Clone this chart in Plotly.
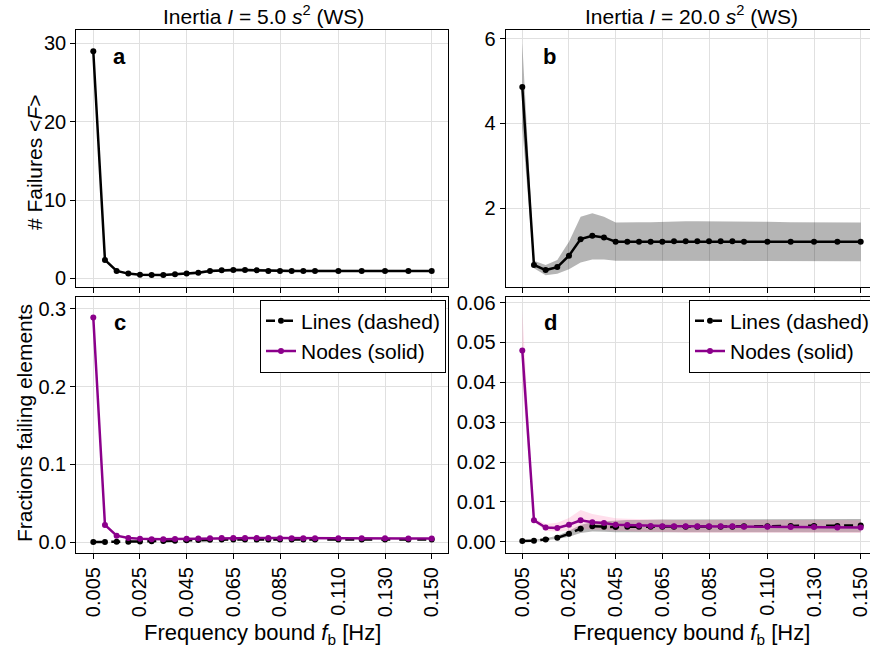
import plotly.graph_objects as go

W, H = 870, 651

freq = [0.005, 0.010, 0.015, 0.020, 0.025, 0.030, 0.035, 0.040, 0.045, 0.050,
        0.055, 0.060, 0.065, 0.070, 0.075, 0.080, 0.085, 0.090, 0.095, 0.100,
        0.110, 0.120, 0.130, 0.140, 0.150]
xtick_vals = [0.005, 0.025, 0.045, 0.065, 0.085, 0.110, 0.130, 0.150]
xtick_text = ["0.005", "0.025", "0.045", "0.065", "0.085", "0.110", "0.130", "0.150"]

# panel a: mean number of failures, I = 5.0
a_mean = [29.0, 2.34, 0.94, 0.60, 0.47, 0.43, 0.43, 0.51, 0.60, 0.72,
          0.94, 1.02, 1.06, 1.06, 1.02, 0.94, 0.94, 0.94, 0.94, 0.94,
          0.94, 0.93, 0.93, 0.93, 0.93]
a_high = [29.3, 2.5, 1.05, 0.72, 0.58, 0.55, 0.56, 0.65, 0.76, 0.9,
          1.12, 1.2, 1.24, 1.24, 1.2, 1.1, 1.08, 1.08, 1.08, 1.07,
          1.07, 1.06, 1.06, 1.06, 1.06]
a_low = [28.7, 2.2, 0.84, 0.5, 0.38, 0.33, 0.32, 0.38, 0.46, 0.56,
         0.78, 0.85, 0.88, 0.88, 0.85, 0.8, 0.8, 0.8, 0.8, 0.8,
         0.8, 0.8, 0.8, 0.8, 0.8]

# panel b: mean number of failures, I = 20.0
b_mean = [4.86, 0.66, 0.54, 0.61, 0.88, 1.27, 1.35, 1.31, 1.21, 1.21,
          1.21, 1.21, 1.21, 1.22, 1.22, 1.22, 1.22, 1.22, 1.22, 1.21,
          1.21, 1.21, 1.21, 1.21, 1.21]
b_high = [5.9, 0.76, 0.66, 0.78, 1.21, 1.80, 1.88, 1.80, 1.66, 1.67,
          1.67, 1.67, 1.68, 1.68, 1.69, 1.69, 1.69, 1.69, 1.69, 1.68,
          1.68, 1.67, 1.67, 1.66, 1.66]
b_low = [3.9, 0.58, 0.42, 0.45, 0.56, 0.72, 0.79, 0.79, 0.76, 0.75,
         0.75, 0.75, 0.75, 0.75, 0.75, 0.75, 0.75, 0.75, 0.75, 0.75,
         0.75, 0.75, 0.75, 0.75, 0.75]

# panel c: fractions failing, I = 5.0
c_lines = [0.0003, 0.0004, 0.0006, 0.0008, 0.0010, 0.0013, 0.0016, 0.0020, 0.0025, 0.0030,
           0.0033, 0.0035, 0.0036, 0.0036, 0.0035, 0.0034, 0.0034, 0.0034, 0.0034, 0.0034,
           0.0034, 0.0034, 0.0034, 0.0034, 0.0034]
c_nodes = [0.289, 0.0223, 0.0085, 0.0055, 0.0045, 0.0040, 0.0040, 0.0042, 0.0045, 0.0048,
           0.0052, 0.0055, 0.0056, 0.0056, 0.0055, 0.0054, 0.0053, 0.0052, 0.0052, 0.0052,
           0.0051, 0.0051, 0.0051, 0.0050, 0.0050]

# panel d: fractions failing, I = 20.0
d_lines = [0.0002, 0.0003, 0.0006, 0.0010, 0.0020, 0.0033, 0.0039, 0.0038, 0.0037, 0.0038,
           0.0038, 0.0038, 0.0038, 0.0038, 0.0038, 0.0038, 0.0038, 0.0038, 0.0038, 0.0039,
           0.0039, 0.0040, 0.0040, 0.0040, 0.0041]
d_lines_high = [0.0003, 0.0005, 0.0009, 0.0015, 0.0028, 0.0042, 0.0050, 0.0052, 0.0054, 0.0055,
                0.0055, 0.0056, 0.0056, 0.0056, 0.0056, 0.0056, 0.0056, 0.0056, 0.0056, 0.0056,
                0.0057, 0.0057, 0.0057, 0.0057, 0.0057]
d_lines_low = [0.0001, 0.0002, 0.0004, 0.0007, 0.0013, 0.0022, 0.0026, 0.0025, 0.0024, 0.0023,
               0.0023, 0.0023, 0.0023, 0.0023, 0.0023, 0.0023, 0.0023, 0.0023, 0.0023, 0.0024,
               0.0024, 0.0024, 0.0024, 0.0024, 0.0024]
d_nodes = [0.048, 0.0054, 0.0036, 0.0035, 0.0043, 0.0054, 0.0049, 0.0047, 0.0043, 0.0042,
           0.0041, 0.0040, 0.0039, 0.0039, 0.0039, 0.0039, 0.0039, 0.0039, 0.0039, 0.0038,
           0.0038, 0.0037, 0.0037, 0.0036, 0.0036]
d_nodes_high = [0.058, 0.0060, 0.0045, 0.0048, 0.0060, 0.0080, 0.0070, 0.0064, 0.0059, 0.0058,
                0.0057, 0.0056, 0.0055, 0.0055, 0.0055, 0.0055, 0.0055, 0.0055, 0.0055, 0.0054,
                0.0054, 0.0054, 0.0054, 0.0054, 0.0054]
d_nodes_low = [0.040, 0.0050, 0.0028, 0.0025, 0.0028, 0.0032, 0.0030, 0.0029, 0.0028, 0.0027,
               0.0026, 0.0025, 0.0024, 0.0024, 0.0023, 0.0023, 0.0023, 0.0023, 0.0023, 0.0022,
               0.0022, 0.0022, 0.0022, 0.0022, 0.0022]

FONT = "Liberation Sans, Arial, Helvetica, sans-serif"
PURPLE = "#8b008b"
GREY_BAND = "rgba(0,0,0,0.29)"
PINK_BAND = "rgba(255,110,170,0.22)"

fig = go.Figure()


def band(xa, ya, hi, lo, color):
    fig.add_trace(go.Scatter(
        x=freq + freq[::-1], y=hi + lo[::-1], fill="toself", fillcolor=color,
        line=dict(width=0), mode="lines", hoverinfo="skip", showlegend=False,
        xaxis=xa, yaxis=ya))


def line(xa, ya, y, color, dash="solid", name=None, legend=None, show=False):
    fig.add_trace(go.Scatter(
        x=freq, y=y, mode="lines+markers", name=name,
        line=dict(color=color, width=2.5, dash=dash),
        marker=dict(color=color, size=6),
        showlegend=show, legend=legend, xaxis=xa, yaxis=ya))


# a
band("x", "y", a_high, a_low, GREY_BAND)
line("x", "y", a_mean, "black")
# b
band("x2", "y2", b_high, b_low, GREY_BAND)
line("x2", "y2", b_mean, "black")
# c
line("x3", "y3", c_lines, "black", "dash", "Lines (dashed)", "legend", True)
line("x3", "y3", c_nodes, PURPLE, "solid", "Nodes (solid)", "legend", True)
# d
band("x4", "y4", d_lines_high, d_lines_low, GREY_BAND)
band("x4", "y4", d_nodes_high, d_nodes_low, PINK_BAND)
line("x4", "y4", d_lines, "black", "dash", "Lines (dashed)", "legend2", True)
line("x4", "y4", d_nodes, PURPLE, "solid", "Nodes (solid)", "legend2", True)

# layout geometry (pixels)
xl_left = [76.3 / W, 448.0 / W]
xl_right = [505.7 / W, 1.0]
y_top = [1 - 287.0 / H, 1 - 30.3 / H]
y_bot = [1 - 553.0 / H, 1 - 297.0 / H]

xr_left = [-0.00228, 0.15698]
xr_right = [-0.00211, 0.15398]

common_ax = dict(showgrid=True, gridcolor="#e0e0e0", gridwidth=1, zeroline=False,
                 showline=True, linecolor="black", linewidth=1.2,
                 ticks="outside", ticklen=5, tickcolor="black", tickwidth=1,
                 automargin=False, ticklabeloverflow="allow",
                 tickfont=dict(family=FONT, size=20, color="black"))


def xax(domain, rng, anchor, labels):
    d = dict(common_ax)
    d.update(domain=domain, range=rng, anchor=anchor, tickvals=xtick_vals,
             ticktext=xtick_text, showticklabels=labels, tickangle=-90,
             mirror=True)
    return d


def yax(domain, rng, anchor, tickvals, fmt, right=False):
    d = dict(common_ax)
    d.update(domain=domain, range=rng, anchor=anchor, tickvals=tickvals,
             tickformat=fmt, mirror=(not right))
    return d


leg_common = dict(bgcolor="white", bordercolor="black", borderwidth=1,
                  font=dict(family=FONT, size=21), itemwidth=30,
                  tracegroupgap=0, xref="container", yref="container",
                  yanchor="top")

fig.update_layout(
    width=W, height=H, margin=dict(l=0, r=0, t=0, b=0, autoexpand=False),
    paper_bgcolor="white", plot_bgcolor="white",
    font=dict(family=FONT, size=20, color="black"),
    xaxis=xax(xl_left, xr_left, "y", False),
    yaxis=yax(y_top, [-1.11, 31.67], "x", [0, 10, 20, 30], "d"),
    xaxis2=xax(xl_right, xr_right, "y2", False),
    yaxis2=yax(y_top, [0.14, 6.2], "x2", [2, 4, 6], "d", True),
    xaxis3=xax(xl_left, xr_left, "y3", True),
    yaxis3=yax(y_bot, [-0.0138, 0.3153], "x3", [0.0, 0.1, 0.2, 0.3], ".1f"),
    xaxis4=xax(xl_right, xr_right, "y4", True),
    yaxis4=yax(y_bot, [-0.0028, 0.0614], "x4",
               [0.0, 0.01, 0.02, 0.03, 0.04, 0.05, 0.06], ".2f", True),
    legend=dict(leg_common, x=446 / W, y=1 - 299.5 / H, xanchor="right"),
    legend2=dict(leg_common, x=689 / W, y=1 - 299.5 / H, xanchor="left"),
    showlegend=True,
)

ann = []


def txt(x, y, s, size=21, **kw):
    ann.append(dict(x=x / W, y=1 - y / H, xref="paper", yref="paper", text=s,
                    showarrow=False, xanchor="center", yanchor="middle",
                    font=dict(family=FONT, size=size, color="black"), **kw))


txt(263, 15, "Inertia <i>I</i> = 5.0 <i>s</i><sup>2</sup> (WS)")
txt(691, 15, "Inertia <i>I</i> = 20.0 <i>s</i><sup>2</sup> (WS)")
txt(119, 57, "<b>a</b>", 22)
txt(549, 57, "<b>b</b>", 22)
txt(120, 322, "<b>c</b>", 22)
txt(550, 322, "<b>d</b>", 22)
txt(262, 634, "Frequency bound <i>f</i><sub>b</sub> [Hz]", 22)
txt(691, 634, "Frequency bound <i>f</i><sub>b</sub> [Hz]", 22)
txt(34, 163, "# Failures &lt;<i>F</i>&gt;", 21, textangle=-90)
txt(24, 423, "Fractions failing elements", 21, textangle=-90)
fig.update_layout(annotations=ann)

fig.write_html("out.html")
